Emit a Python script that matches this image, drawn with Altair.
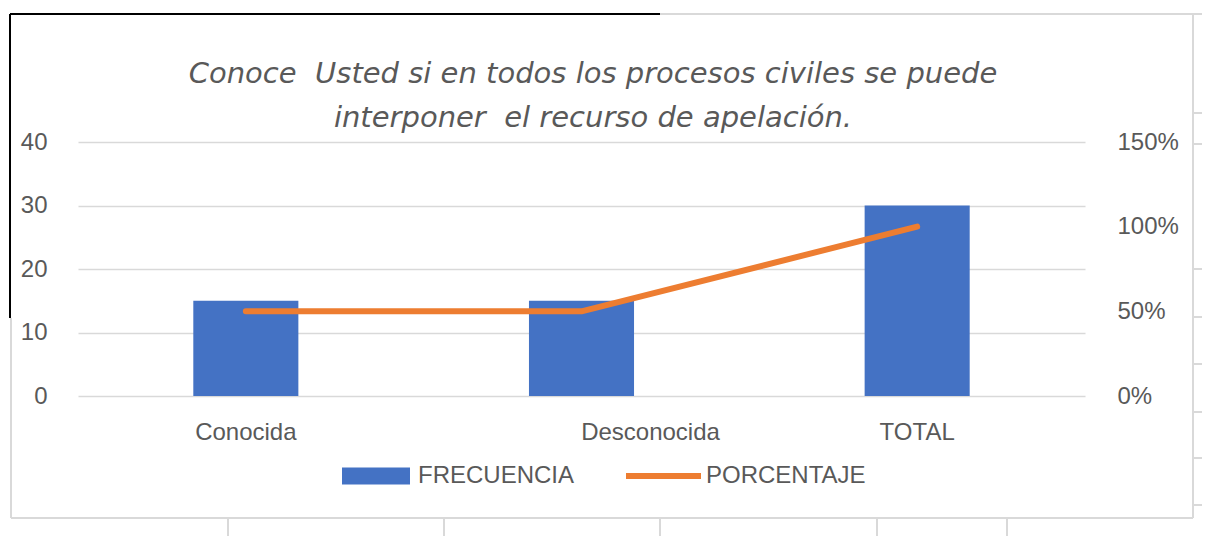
import altair as alt
import pandas as pd

# ---- data ----
categorias = ["Conocida", "Desconocida", "TOTAL"]
frecuencia = [15, 15, 30]
porcentaje = [0.5, 0.5, 1.0]

titulo = ["Conoce\u00a0\u00a0Usted si en todos los procesos civiles se puede",
          "interponer\u00a0\u00a0el recurso de apelación."]

df = pd.DataFrame({"categoria": categorias,
                   "frecuencia": frecuencia,
                   "porcentaje": porcentaje})

GRAY_TXT = "#595959"
BLUE = "#4472C4"
ORANGE = "#ED7D31"
FONT = "Liberation Sans"

x_enc = alt.X(
    "categoria:N", sort=categorias, title=None,
    scale=alt.Scale(paddingInner=0.687, paddingOuter=0.3435),
    axis=alt.Axis(labelAngle=0, domain=False, ticks=False, labelFontSize=24,
                  labelColor=GRAY_TXT, labelFont=FONT, labelPadding=24,
                  labelOffset={"condition": {"test": "datum.value === 'Desconocida'", "value": 69},
                               "value": 0}),
)

bars = alt.Chart(df).transform_calculate(serie="'FRECUENCIA'").mark_bar(color=BLUE).encode(
    x=x_enc,
    y=alt.Y("frecuencia:Q", title=None,
            scale=alt.Scale(domain=[0, 40]),
            axis=alt.Axis(orient="left", values=[0, 10, 20, 30, 40], domain=False, ticks=False,
                          grid=True, gridColor="#d9d9d9", gridWidth=1.5,
                          labelFontSize=24, labelColor=GRAY_TXT, labelFont=FONT,
                          labelPadding=31)),
    color=alt.Color("serie:N", title=None,
                    scale=alt.Scale(domain=["FRECUENCIA"], range=[BLUE]),
                    legend=alt.Legend(orient="none", legendX=281, legendY=317,
                                      symbolType="M-2,-0.5H2V0.5H-2Z", symbolSize=1156,
                                      symbolStrokeWidth=0, symbolOpacity=1,
                                      labelFontSize=24, labelColor=GRAY_TXT, labelFont=FONT,
                                      labelOffset=25)),
)

line = alt.Chart(df).transform_calculate(serie="'PORCENTAJE'").mark_line(
    strokeWidth=6, strokeCap="round", strokeJoin="round").encode(
    x=x_enc,
    y=alt.Y("porcentaje:Q", title=None,
            scale=alt.Scale(domain=[0, 1.5]),
            axis=alt.Axis(orient="right", values=[0, 0.5, 1.0, 1.5], format=".0%",
                          domain=False, ticks=False, grid=False,
                          labelFontSize=24, labelColor=GRAY_TXT, labelFont=FONT,
                          labelPadding=32, labelAlign="left")),
    color=alt.Color("serie:N", title=None,
                    scale=alt.Scale(domain=["PORCENTAJE"], range=[ORANGE]),
                    legend=alt.Legend(orient="none", legendX=545, legendY=293.5,
                                      symbolType="stroke", symbolSize=5625,
                                      symbolStrokeWidth=6, symbolOpacity=1,
                                      labelFontSize=24, labelColor=GRAY_TXT, labelFont=FONT,
                                      labelOffset=2)),
)

one = pd.DataFrame({"k": [0]})

# ---- title as text ----
title_mark = alt.Chart(one).mark_text(
    font="DejaVu Sans", fontSize=29, fontStyle="italic", color=GRAY_TXT,
    lineHeight=44, align="center", baseline="alphabetic",
).encode(x=alt.value(515), y=alt.value(-59), text=alt.value(titulo))


# ---- decorative sheet frame (not data) ----
def seg(x1, x2, y1, y2, color="#d9d9d9", w=2):
    return alt.Chart(one).mark_rule(color=color, strokeWidth=w).encode(
        x=alt.value(x1), x2=alt.value(x2), y=alt.value(y1), y2=alt.value(y2))


deco = [
    seg(582, 1124, -128, -128),
    seg(-67, -67, 176, 376),
    seg(-67, 1115, 376, 376),
    seg(1115, 1115, -128, 376),
    seg(-68, 582, -128, -128, "black", 2),
    seg(-68, -68, -128, 176, "black", 2),
]
for bx in [150, 366, 582, 799, 929]:
    deco.append(seg(bx, bx, 376, 402))
for ry in [-29, 2, 127, 175, 222, 270, 316, 363]:
    deco.append(seg(1115, 1132, ry, ry))

chart = alt.layer(*deco, title_mark, bars, line).resolve_scale(
    y="independent", color="independent"
).properties(
    width=1007, height=254,
    padding={"left": 70, "top": 134, "right": 117, "bottom": 140},
    autosize=alt.AutoSizeParams(type="none"),
    background="white",
).configure_view(stroke=None)

chart.save("out.html", embed_options={"renderer": "svg", "actions": False})
